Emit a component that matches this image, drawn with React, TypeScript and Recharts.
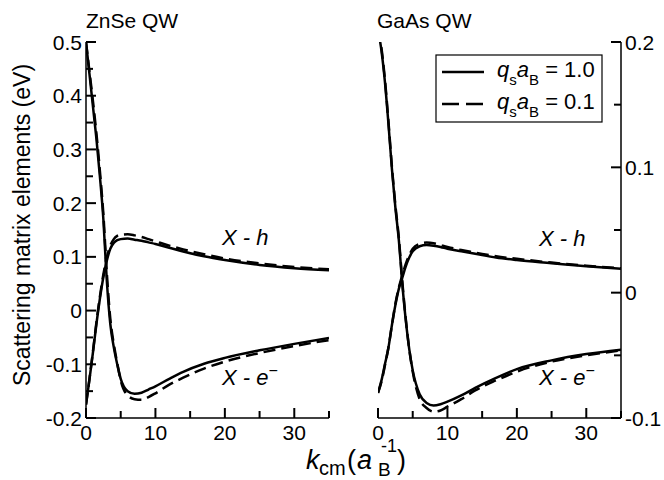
import React from 'react'
import { LineChart, Line, XAxis, YAxis } from 'recharts'

const FONT = '"Liberation Sans", Arial, Helvetica, sans-serif'

// wave vector grid (units of 1/a_B)
const kGrid = [0, 0.5, 1, 1.5, 2, 2.5, 3, 3.5, 4, 4.5, 5, 6, 7, 8, 9, 10, 12, 14, 17, 20, 25, 30, 35]
const xTicks = [0, 5, 10, 15, 20, 25, 30, 35]
const znseTicks = [-0.2, -0.15, -0.1, -0.05, 0, 0.05, 0.1, 0.15, 0.2, 0.25, 0.3, 0.35, 0.4, 0.45, 0.5]
const gaasTicks = [-0.1, -0.05, 0, 0.05, 0.1, 0.15, 0.2]

// ZnSe QW
const znseXeSolid = [0.5, 0.44, 0.38, 0.32, 0.25, 0.17, 0.055, -0.025, -0.068, -0.1, -0.127, -0.15, -0.155, -0.153, -0.147, -0.141, -0.127, -0.114, -0.099, -0.088, -0.074, -0.062, -0.051]
const znseXeDashed = [0.5, 0.445, 0.39, 0.33, 0.26, 0.18, 0.07, -0.015, -0.062, -0.098, -0.13, -0.158, -0.165, -0.166, -0.161, -0.154, -0.138, -0.125, -0.108, -0.095, -0.079, -0.066, -0.055]
const znseXhSolid = [-0.175, -0.128, -0.078, -0.025, 0.022, 0.062, 0.093, 0.115, 0.126, 0.131, 0.133, 0.134, 0.132, 0.13, 0.127, 0.124, 0.117, 0.11, 0.101, 0.094, 0.085, 0.079, 0.075]
const znseXhDashed = [-0.175, -0.127, -0.076, -0.022, 0.026, 0.067, 0.099, 0.121, 0.133, 0.139, 0.141, 0.142, 0.14, 0.137, 0.133, 0.129, 0.121, 0.114, 0.105, 0.097, 0.088, 0.081, 0.077]

// GaAs QW
const gaasXeSolid = [0.21, 0.193, 0.168, 0.135, 0.099, 0.068, 0.042, 0.007, -0.022, -0.045, -0.062, -0.081, -0.088, -0.09, -0.089, -0.087, -0.082, -0.076, -0.068, -0.061, -0.054, -0.049, -0.0455]
const gaasXeDashed = [0.21, 0.195, 0.17, 0.137, 0.101, 0.07, 0.044, 0.009, -0.021, -0.045, -0.063, -0.085, -0.092, -0.095, -0.094, -0.091, -0.085, -0.078, -0.07, -0.063, -0.055, -0.05, -0.046]
const gaasXhSolid = [-0.08, -0.07, -0.057, -0.044, -0.026, -0.01, 0.003, 0.012, 0.021, 0.028, 0.033, 0.037, 0.038, 0.0375, 0.0365, 0.035, 0.033, 0.031, 0.028, 0.026, 0.0235, 0.021, 0.019]
const gaasXhDashed = [-0.08, -0.071, -0.058, -0.044, -0.026, -0.009, 0.004, 0.014, 0.023, 0.03, 0.035, 0.039, 0.04, 0.0395, 0.038, 0.0365, 0.034, 0.032, 0.029, 0.027, 0.024, 0.0215, 0.0195]

const buildRows = (xeS: number[], xeD: number[], xhS: number[], xhD: number[]) =>
  kGrid.map((k, i) => ({ k, xeS: xeS[i], xeD: xeD[i], xhS: xhS[i], xhD: xhD[i] }))

const znseData = buildRows(znseXeSolid, znseXeDashed, znseXhSolid, znseXhDashed)
const gaasData = buildRows(gaasXeSolid, gaasXeDashed, gaasXhSolid, gaasXhDashed)

const MAJOR = 10
const MINOR = 7
const AXIS_W = 1.5
const TICK_W = 2
const isMajorX = (v: number) => Math.abs(v % 10) < 1e-9
const isMajorY = (v: number) => Math.abs(v * 10 - Math.round(v * 10)) < 1e-6
const fmtY = (v: number) => (Math.abs(v) < 1e-9 ? '0' : v.toFixed(1))

const tickText = { fontSize: 21, fontFamily: FONT, fill: '#000' }

// ticks point into the plot, labels sit outside
function BottomTick(props: any) {
  const x = Number(props.x)
  const y = Number(props.y)
  const v = Number(props.payload.value)
  const major = isMajorX(v)
  return (
    <g>
      <line x1={x} x2={x} y1={y} y2={y - (major ? MAJOR : MINOR)} stroke="#000" strokeWidth={TICK_W} />
      {major && (
        <text x={x} y={y + 22} textAnchor="middle" {...tickText}>
          {v}
        </text>
      )}
    </g>
  )
}

function TopTick(props: any) {
  const x = Number(props.x)
  const y = Number(props.y)
  const major = isMajorX(Number(props.payload.value))
  return (
    <g>
      <line x1={x} x2={x} y1={y} y2={y + (major ? MAJOR : MINOR)} stroke="#000" strokeWidth={TICK_W} />
    </g>
  )
}

function SideTick(props: any) {
  const x = Number(props.x)
  const y = Number(props.y)
  const v = Number(props.payload.value)
  const { side, label } = props
  const major = isMajorY(v)
  const len = major ? MAJOR : MINOR
  const dir = side === 'left' ? 1 : -1
  return (
    <g>
      <line x1={x} x2={x + dir * len} y1={y} y2={y} stroke="#000" strokeWidth={TICK_W} />
      {label && major && (
        <text
          x={side === 'left' ? x - 4 : x + 4}
          y={y}
          dy="0.36em"
          textAnchor={side === 'left' ? 'end' : 'start'}
          {...tickText}
        >
          {fmtY(v)}
        </text>
      )}
    </g>
  )
}

interface PanelProps {
  data: any[]
  yDomain: [number, number]
  yTicks: number[]
  labelSide: 'left' | 'right'
  left: number
  width: number
  margin: { top: number; right: number; bottom: number; left: number }
  leftW: number
  rightW: number
}

function Panel({ data, yDomain, yTicks, labelSide, left, width, margin, leftW, rightW }: PanelProps) {
  const axisLine = { stroke: '#000', strokeWidth: AXIS_W }
  const common = { type: 'number' as const, allowDataOverflow: true, interval: 0 as const, tickSize: 0, tickMargin: 0, tickLine: false, axisLine }
  return (
    <div style={{ position: 'absolute', left, top: 0 }}>
      <LineChart width={width} height={480} data={data} margin={margin}>
        <XAxis {...common} dataKey="k" domain={[0, 35]} ticks={xTicks} height={62} tick={(p: any) => <BottomTick {...p} />} />
        <XAxis {...common} xAxisId="top" orientation="top" domain={[0, 35]} ticks={xTicks} height={0} tick={(p: any) => <TopTick {...p} />} />
        <YAxis
          {...common}
          domain={yDomain}
          ticks={yTicks}
          width={leftW}
          tick={(p: any) => <SideTick {...p} side="left" label={labelSide === 'left'} />}
        />
        <YAxis
          {...common}
          yAxisId="right"
          orientation="right"
          domain={yDomain}
          ticks={yTicks}
          width={rightW}
          tick={(p: any) => <SideTick {...p} side="right" label={labelSide === 'right'} />}
        />
        <Line type="monotone" dataKey="xhS" stroke="#000" strokeWidth={2.5} dot={false} isAnimationActive={false} />
        <Line type="monotone" dataKey="xhD" stroke="#000" strokeWidth={2.5} strokeDasharray="12 6" dot={false} isAnimationActive={false} />
        <Line type="monotone" dataKey="xeS" stroke="#000" strokeWidth={2.5} dot={false} isAnimationActive={false} />
        <Line type="monotone" dataKey="xeD" stroke="#000" strokeWidth={2.5} strokeDasharray="12 6" dot={false} isAnimationActive={false} />
      </LineChart>
    </div>
  )
}

function Annotation({ x, y, sup }: { x: number; y: number; sup: boolean }) {
  return (
    <text x={x} y={y} fontSize={22} fontFamily={FONT} fontStyle="italic" style={{ whiteSpace: 'pre' }}>
      {sup ? 'X - e' : 'X - h'}
      {sup && (
        <tspan fontStyle="normal" fontSize={16} dy={-9}>
          −
        </tspan>
      )}
    </text>
  )
}

function LegendLabel({ x, y, value }: { x: number; y: number; value: string }) {
  return (
    <text x={x} y={y} fontSize={22} fontFamily={FONT} style={{ whiteSpace: 'pre' }}>
      <tspan fontStyle="italic">q</tspan>
      <tspan fontSize={15} dy={8}>s</tspan>
      <tspan fontStyle="italic" dy={-8}>a</tspan>
      <tspan fontSize={15} dy={8}>B</tspan>
      <tspan dy={-8}>{` = ${value}`}</tspan>
    </text>
  )
}

export default function App() {
  return (
    <div style={{ position: 'absolute', left: 0, top: 0, width: 664, height: 480, background: '#fff', overflow: 'hidden' }}>
      <Panel
        data={znseData}
        yDomain={[-0.2, 0.5]}
        yTicks={znseTicks}
        labelSide="left"
        left={0}
        width={340}
        margin={{ top: 42, right: 11, bottom: 0, left: 0 }}
        leftW={86}
        rightW={0}
      />
      <Panel
        data={gaasData}
        yDomain={[-0.1, 0.2]}
        yTicks={gaasTicks}
        labelSide="right"
        left={340}
        width={324}
        margin={{ top: 42, right: 0, bottom: 0, left: 38 }}
        leftW={0}
        rightW={43}
      />
      <svg width={664} height={480} style={{ position: 'absolute', left: 0, top: 0, pointerEvents: 'none' }}>
        <text x={86} y={28} fontSize={21} fontFamily={FONT}>ZnSe QW</text>
        <text x={377} y={28} fontSize={21} fontFamily={FONT}>GaAs QW</text>
        <text x={30} y={225} fontSize={23} fontFamily={FONT} textAnchor="middle" transform="rotate(-90, 30, 225)">
          Scattering matrix elements (eV)
        </text>
        <text y={469} fontSize={27} fontFamily={FONT}>
          <tspan x={306} fontStyle="italic">k</tspan>
          <tspan x={319} fontSize={20} dy={6}>cm</tspan>
          <tspan x={347} dy={-6}>(</tspan>
          <tspan x={357} fontStyle="italic">a</tspan>
          <tspan x={378} fontSize={19} dy={7}>B</tspan>
          <tspan x={381} fontSize={18} dy={-24}>-1</tspan>
          <tspan x={397} dy={17}>)</tspan>
        </text>
        <Annotation x={222} y={245} sup={false} />
        <Annotation x={222} y={385} sup />
        <Annotation x={539} y={246} sup={false} />
        <Annotation x={539} y={385} sup />
        <rect x={436} y={55} width={166} height={67} fill="#fff" stroke="#000" strokeWidth={1.2} />
        <line x1={442} x2={484} y1={72} y2={72} stroke="#000" strokeWidth={2.5} />
        <line x1={442} x2={484} y1={104} y2={104} stroke="#000" strokeWidth={2.5} strokeDasharray="17 7" />
        <LegendLabel x={497} y={77} value="1.0" />
        <LegendLabel x={497} y={109} value="0.1" />
      </svg>
    </div>
  )
}
